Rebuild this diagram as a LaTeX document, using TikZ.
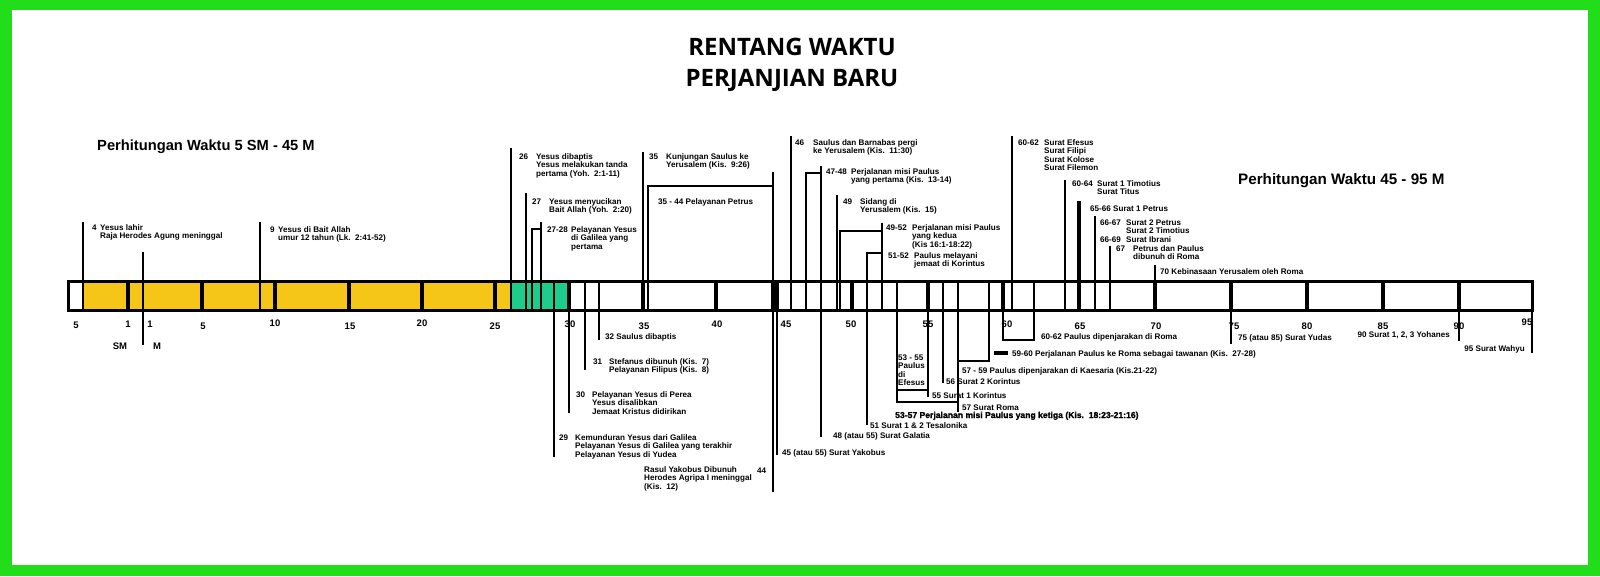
\documentclass[tikz,border=0pt]{standalone}
\usepackage{fontspec}
\setmainfont{Liberation Sans}
\newfontfamily\titlefont{Open Sans}
\newfontfamily\heavyfont{Liberation Sans}[BoldFeatures={FakeBold=1.2}]
\definecolor{frameG}{RGB}{34,221,26}
\definecolor{barY}{RGB}{245,198,24}
\definecolor{barG}{RGB}{30,205,140}
\newcommand{\ml}[1]{\vtop{\halign{##\hfil\cr#1\crcr}}}
\newcommand{\lblfont}{\fontsize{8.1}{8.6}\selectfont\bfseries}
\newcommand{\numfont}{\fontsize{9.5}{11}\selectfont\bfseries}
\begin{document}
\begin{tikzpicture}[x=1pt,y=-1pt,
  ev/.style={line width=2.4pt},
  tk/.style={line width=3.8pt},
  lbl/.style={font=\lblfont, inner sep=0pt, anchor=base west},
  lble/.style={lbl, anchor=base east},
  num/.style={font=\numfont, inner sep=0pt},
  head/.style={inner sep=0pt, anchor=base west}]
\useasboundingbox (0,0) rectangle (1600,576);
\fill[frameG] (0,0) rectangle (1600,576);
\fill[white] (12,10) rectangle (1588,565);

% title
\node[font=\titlefont\bfseries\fontsize{24}{31}\selectfont, anchor=base, inner sep=0pt] (title1) at (792,55.5) {RENTANG WAKTU};
\node[font=\titlefont\bfseries\fontsize{24}{31}\selectfont, anchor=base, inner sep=0pt] (title2) at (792,86.5) {PERJANJIAN BARU};

% headings
\node[head, font=\fontsize{14.7}{17}\selectfont\bfseries] (h1) at (97,150) {Perhitungan Waktu 5 SM - 45 M};
\node[head, font=\fontsize{15.2}{17}\selectfont\bfseries] (h2) at (1238,184.5) {Perhitungan Waktu 45 - 95 M};

% bar
\fill[barY] (83,281) rectangle (511,310);
\fill[barG] (511,281) rectangle (569,310);
\foreach \x in {128,202,275,349,422,495,569,643,716,852,928,1003,1079,1155,1231,1307,1383,1459}
  \draw[tk] (\x,281) -- (\x,310);
\fill (771,281) rectangle (779,310);
\draw[line width=3pt] (68,281) rectangle (1532,310);

% tick labels
\foreach \x/\yy/\t [count=\i] in {76/325/5, 128/324/1, 150/324/1, 203/326/5, 275/323/10, 350/326/15, 422/323/20, 495/326/25, 570/324/30, 644/326/35, 717/324/40, 786/324/45, 851/324/50, 928/324/55, 1007/324/60, 1080/326/65, 1156/326/70, 1234/326/75, 1307/326/80, 1383/326/85, 1459/326/90, 1527/322/95}
  \node[num] (tl\i) at (\x,\yy) {\t};
\node[num] (sm) at (120,346) {SM};
\node[num] (m) at (157,346) {M};

% event lines going up
\foreach \x/\t in {83/222, 260/222, 511/148, 526/193, 541/222, 643/152, 791/136, 837/195, 882/223, 1012/136, 1065/180, 1095/216, 1110/246, 1155/265}
  \draw[ev] (\x,310) -- (\x,\t);
\draw[line width=3.8pt] (1079,310) -- (1079,201);
\draw[ev] (143,252) -- (143,345);
\draw[ev] (532,310) |- (541,229);
\draw[ev] (648,310) |- (773,186);
\draw[ev] (773,172) -- (773,492);
\draw[ev] (806,310) |- (821,173);
\draw[ev] (821,166) -- (821,437);
\draw[ev] (840,310) |- (882,231);
\draw[ev] (867,425) -- (867,253) -- (882,253);

% event lines going down
\foreach \x/\b in {554/457, 569/413, 585/370, 599/340, 777/455, 928/397, 943/383, 958/412, 1231/344, 1459/341, 1532/353}
  \draw[ev] (\x,281) -- (\x,\b);
\draw[ev] (897,281) -- (897,402) -- (958,402);
\draw[ev] (897,390) -- (928,390);
\draw[ev] (958,361) -- (989,361) -- (989,281);
\draw[ev] (1003,281) -- (1003,340) -- (1034,340) -- (1034,281);
\draw[line width=3.5pt] (994,353) -- (1008,353);

% upper labels
\node[lbl] (n4) at (92,230) {4};
\node[lbl] (t4) at (100,230) {\ml{Yesus lahir\cr Raja Herodes Agung meninggal}};
\node[lbl] (n9) at (270,232) {9};
\node[lbl] (t9) at (278,232) {\ml{Yesus di Bait Allah\cr umur 12 tahun (Lk.\ \ 2:41-52)}};
\node[lbl] (n26) at (519,159) {26};
\node[lbl] (t26) at (536,159) {\ml{Yesus dibaptis\cr Yesus melakukan tanda\cr pertama (Yoh.\ \ 2:1-11)}};
\node[lbl] (n27) at (532,204) {27};
\node[lbl] (t27) at (549,204) {\ml{Yesus menyucikan\cr Bait Allah (Yoh.\ \ 2:20)}};
\node[lbl] (n2728) at (547,232) {27-28};
\node[lbl] (t2728) at (571,232) {\ml{Pelayanan Yesus\cr di Galilea yang\cr pertama}};
\node[lbl] (n35) at (649,159) {35};
\node[lbl] (t35) at (666,159) {\ml{Kunjungan Saulus ke\cr Yerusalem (Kis.\ \ 9:26)}};
\node[lbl] (petrus) at (658,204) {35 - 44 Pelayanan Petrus};
\node[lbl] (n46) at (795,145) {46};
\node[lbl] (t46) at (813,145) {\ml{Saulus dan Barnabas pergi\cr ke Yerusalem (Kis.\ \ 11:30)}};
\node[lbl] (n4748) at (826,174) {47-48};
\node[lbl] (t4748) at (851,174) {\ml{Perjalanan misi Paulus\cr yang pertama (Kis.\ \ 13-14)}};
\node[lbl] (n49) at (843,204) {49};
\node[lbl] (t49) at (860,204) {\ml{Sidang di\cr Yerusalem (Kis.\ \ 15)}};
\node[lbl] (n4952) at (886,230) {49-52};
\node[lbl] (t4952) at (912,230) {\ml{Perjalanan misi Paulus\cr yang kedua\cr (Kis 16:1-18:22)}};
\node[lbl] (n5152) at (888,258) {51-52};
\node[lbl] (t5152) at (914,258) {\ml{Paulus melayani\cr jemaat di Korintus}};
\node[lbl] (n6062) at (1018,145) {60-62};
\node[lbl] (t6062) at (1044,145) {\ml{Surat Efesus\cr Surat Filipi\cr Surat Kolose\cr Surat Filemon}};
\node[lbl] (n6064) at (1072,186) {60-64};
\node[lbl] (t6064) at (1097,186) {\ml{Surat 1 Timotius\cr Surat Titus}};
\node[lbl] (t6566) at (1090,211) {65-66 Surat 1 Petrus};
\node[lbl] (n6667) at (1100,225) {66-67};
\node[lbl] (t6667) at (1126,225) {\ml{Surat 2 Petrus\cr Surat 2 Timotius}};
\node[lbl] (n6669) at (1100,242) {66-69};
\node[lbl] (t6669) at (1126,242) {Surat Ibrani};
\node[lbl] (n67) at (1116,251) {67};
\node[lbl] (t67) at (1133,251) {\ml{Petrus dan Paulus\cr dibunuh di Roma}};
\node[lbl] (t70) at (1160,274) {70 Kebinasaan Yerusalem oleh Roma};

% lower labels
\node[lbl] (t32) at (605,339) {32 Saulus dibaptis};
\node[lbl] (n31) at (593,364) {31};
\node[lbl] (t31) at (609,364) {\ml{Stefanus dibunuh (Kis.\ \ 7)\cr Pelayanan Filipus (Kis.\ \ 8)}};
\node[lbl] (n30) at (576,397) {30};
\node[lbl] (t30) at (592,397) {\ml{Pelayanan Yesus di Perea\cr Yesus disalibkan\cr Jemaat Kristus didirikan}};
\node[lbl] (n29) at (559,440) {29};
\node[lbl] (t29) at (575,440) {\ml{Kemunduran Yesus dari Galilea\cr Pelayanan Yesus di Galilea yang terakhir\cr Pelayanan Yesus di Yudea}};
\node[lbl] (t44) at (644,472) {\ml{Rasul Yakobus Dibunuh\cr Herodes Agripa I meninggal\cr (Kis.\ \ 12)}};
\node[lbl] (n44) at (757,473) {44};
\node[lbl] (t45) at (782,455) {45 (atau 55) Surat Yakobus};
\node[lbl] (t48) at (833,438) {48 (atau 55) Surat Galatia};
\node[lbl] (t51) at (870,428) {51 Surat 1 \& 2 Tesalonika};
\node[lbl, font=\heavyfont\fontsize{8.6}{9}\selectfont\bfseries] (t5357) at (895,418) {53-57 Perjalanan misi Paulus yang ketiga (Kis.\ \ 18:23-21:16)};
\node[lbl] (t57) at (962,410) {57 Surat Roma};
\node[lbl] (t55) at (932,398) {55 Surat 1 Korintus};
\node[lbl] (t5355) at (898,360) {\ml{53 - 55\cr Paulus\cr di\cr Efesus}};
\node[lbl] (t56) at (946,384) {56 Surat 2 Korintus};
\node[lbl] (t5759) at (962,373) {57 - 59 Paulus dipenjarakan di Kaesaria (Kis.21-22)};
\node[lbl] (t5960) at (1012,356) {59-60 Perjalanan Paulus ke Roma sebagai tawanan (Kis.\ \ 27-28)};
\node[lbl] (t6062b) at (1041,339) {60-62 Paulus dipenjarakan di Roma};
\node[lbl] (t75) at (1238,340) {75 (atau 85) Surat Yudas};
\node[lble] (t90) at (1450,337) {90 Surat 1, 2, 3 Yohanes};
\node[lble] (t95) at (1525,351) {95 Surat Wahyu};
\end{tikzpicture}
\end{document}
